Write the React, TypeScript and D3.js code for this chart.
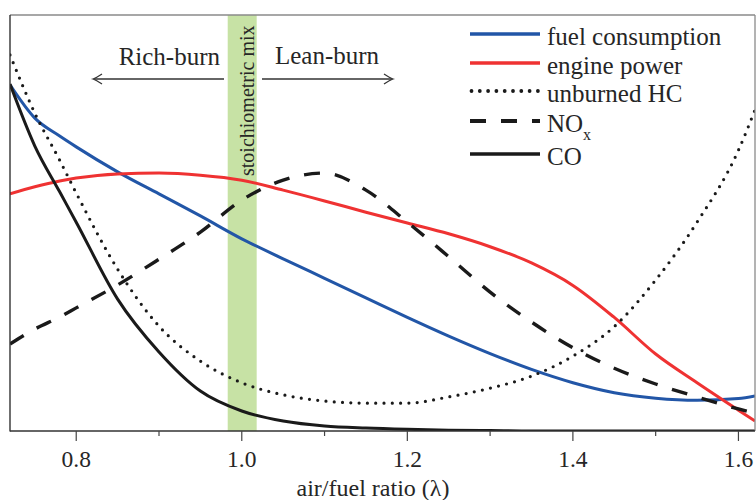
import React, { useEffect } from "react";
import * as d3 from "d3";

// Air/fuel ratio samples (λ)
const lambda = [0.72, 0.75, 0.78, 0.8, 0.85, 0.9, 0.95, 1.0, 1.05, 1.1, 1.15, 1.2, 1.25, 1.3, 1.35, 1.4, 1.45, 1.5, 1.55, 1.6, 1.62];

// Relative levels (arbitrary units, 0–100)
const fuelConsumption = [83.2, 75.2, 70.9, 68.3, 62.3, 57.0, 51.7, 46.2, 41.4, 36.7, 32.0, 27.3, 22.8, 18.6, 14.8, 11.6, 9.2, 7.9, 7.4, 7.8, 8.4];
const enginePower = [57.0, 58.7, 60.1, 60.8, 61.8, 62.0, 61.5, 60.3, 57.9, 55.3, 52.6, 50.0, 47.4, 44.3, 40.4, 35.0, 27.3, 18.5, 11.6, 5.0, 2.4];
const unburnedHC = [90.4, 76.4, 65.1, 57.2, 38.9, 25.2, 16.8, 11.6, 8.7, 7.2, 6.7, 6.7, 8.2, 10.3, 13.2, 18.0, 25.1, 36.3, 50.2, 67.5, 77.2];
const nox = [20.9, 24.5, 27.4, 29.6, 35.1, 41.3, 47.8, 55.5, 60.3, 62.0, 57.9, 50.2, 41.9, 33.4, 26.2, 20.0, 15.1, 11.3, 8.2, 5.3, 4.3];
const co = [83.4, 68.5, 57.5, 50.2, 31.7, 19.0, 9.6, 4.8, 2.4, 1.2, 0.7, 0.4, 0.2, 0.1, 0, 0, 0, 0, 0, 0, 0];

const majorTicks = [0.8, 1.0, 1.2, 1.4, 1.6];
const minorTicks = [0.9, 1.1, 1.3, 1.5];
const stoichBand = [0.983, 1.018];

const BLUE = "#2256a7";
const RED = "#ef3232";
const INK = "#1a1a1a";
const TEXT = "#262626";
const FONT = "'Liberation Serif', 'Times New Roman', serif";

type Series = { name: string; values: number[]; color: string; width: number; dash?: string; cap?: string };

const series: Series[] = [
  { name: "fuel consumption", values: fuelConsumption, color: BLUE, width: 3 },
  { name: "engine power", values: enginePower, color: RED, width: 3 },
  { name: "unburned HC", values: unburnedHC, color: INK, width: 3.2, dash: "0 8.3", cap: "round" },
  { name: "NOx", values: nox, color: INK, width: 3.4, dash: "16 15" },
  { name: "CO", values: co, color: INK, width: 3 },
];

const W = 756;
const H = 500;
const left = 10;
const right = 755;
const top = 15;
const bottom = 431;

export default function App() {
  useEffect(() => {
    document.body.style.margin = "0";
  }, []);

  const x = d3.scaleLinear().domain([0.72, 1.62]).range([left, right]);
  const y = d3.scaleLinear().domain([0, 100]).range([bottom, top]);

  const line = (vals: number[]) =>
    d3
      .line<number>()
      .x((_, i) => x(lambda[i]))
      .y((v) => y(v))
      .curve(d3.curveMonotoneX)(vals) || "";

  const arrowHead = (tx: number, ty: number, dir: number) =>
    `M${tx - dir * 9},${ty - 5} Q${tx - dir * 3},${ty - 1} ${tx},${ty} Q${tx - dir * 3},${ty + 1} ${tx - dir * 9},${ty + 5}`;

  const legendX1 = 470;
  const legendX2 = 540;
  const legendRows = [34, 63, 91, 121, 154];

  return (
    <svg width={W} height={H} style={{ display: "block", fontFamily: FONT }}>
      <defs>
        <clipPath id="plot-area">
          <rect x={left} y={top} width={right - left} height={bottom - top} />
        </clipPath>
      </defs>
      <rect width={W} height={H} fill="#fff" />

      {/* stoichiometric band */}
      <rect
        x={x(stoichBand[0])}
        y={top}
        width={x(stoichBand[1]) - x(stoichBand[0])}
        height={bottom - top}
        fill="#c7e2a5"
      />
      <text
        transform={`translate(${x(stoichBand[1]) - 2.5},176) rotate(-90)`}
        fontSize={20}
        fill={TEXT}
      >
        stoichiometric mix
      </text>

      {/* rich / lean annotations */}
      <text x={220} y={65} fontSize={25} fill={TEXT} textAnchor="end">Rich-burn</text>
      <text x={275} y={64} fontSize={25} fill={TEXT}>Lean-burn</text>
      <g stroke="#333" strokeWidth={1.3} fill="none">
        <line x1={224} y1={79} x2={94} y2={79} />
        <path d={arrowHead(93, 79, -1)} />
        <line x1={262} y1={79} x2={392} y2={79} />
        <path d={arrowHead(393, 79, 1)} />
      </g>

      {/* curves */}
      <g clipPath="url(#plot-area)" fill="none">
        {series.map((s) => (
          <path
            key={s.name}
            d={line(s.values)}
            stroke={s.color}
            strokeWidth={s.width}
            strokeDasharray={s.dash}
            strokeLinecap={(s.cap as any) || "butt"}
            strokeLinejoin="round"
          />
        ))}
      </g>

      {/* frame */}
      <line x1={left} y1={top} x2={right} y2={top} stroke="#8a8a8a" strokeWidth={1.3} />
      <line x1={right} y1={top} x2={right} y2={bottom} stroke="#8a8a8a" strokeWidth={1.3} />
      <line x1={left} y1={top} x2={left} y2={bottom + 0.6} stroke="#333" strokeWidth={1.4} />
      <line x1={left} y1={bottom} x2={right} y2={bottom} stroke="#333" strokeWidth={1.4} />

      {/* x axis ticks */}
      <g stroke="#444" strokeWidth={1.2}>
        {majorTicks.map((t) => (
          <line key={`M${t}`} x1={x(t)} x2={x(t)} y1={bottom} y2={bottom + 10} />
        ))}
        {minorTicks.map((t) => (
          <line key={`m${t}`} x1={x(t)} x2={x(t)} y1={bottom} y2={bottom + 5} />
        ))}
      </g>
      {majorTicks.map((t) => (
        <text key={`l${t}`} x={x(t)} y={467} fontSize={23.5} fill={TEXT} textAnchor="middle">
          {d3.format(".1f")(t)}
        </text>
      ))}
      <text x={373} y={496} fontSize={24} fill={TEXT} textAnchor="middle">
        air/fuel ratio (λ)
      </text>

      {/* legend */}
      {series.map((s, i) => (
        <g key={`leg${s.name}`}>
          <line
            x1={s.cap ? legendX1 + 1.5 : legendX1}
            x2={legendX2}
            y1={legendRows[i]}
            y2={legendRows[i]}
            stroke={s.color}
            strokeWidth={s.width + 0.6}
            strokeDasharray={s.dash}
            strokeLinecap={(s.cap as any) || "butt"}
          />
          <text x={547} y={legendRows[i] + 11} fontSize={25} fill={TEXT}>
            {s.name === "NOx" ? (
              <>
                NO
                <tspan fontSize={16} dy={8}>x</tspan>
              </>
            ) : (
              s.name
            )}
          </text>
        </g>
      ))}
    </svg>
  );
}
